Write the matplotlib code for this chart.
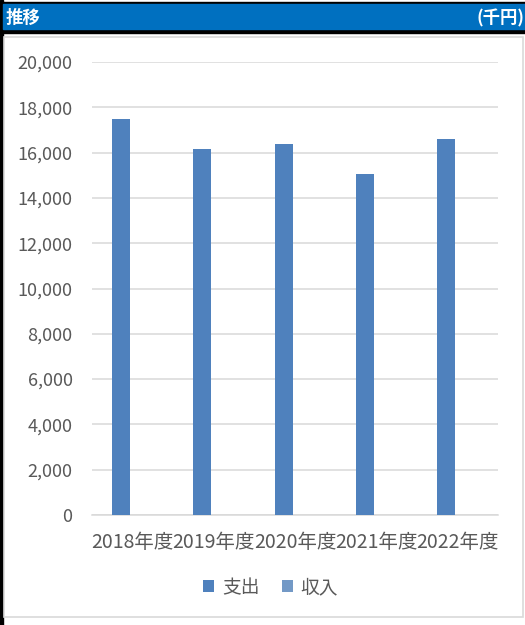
import matplotlib
matplotlib.use('Agg')
from matplotlib import pyplot as plt
from matplotlib.patches import Rectangle
import numpy as np

plt.rcParams['font.family'] = ['Noto Sans CJK JP', 'DejaVu Sans']

# データ
years = ['2018年度', '2019年度', '2020年度', '2021年度', '2022年度']
expense = [17500, 16150, 16370, 15040, 16590]   # 支出
income = [0, 0, 0, 0, 0]                         # 収入 (値なし)
yticks = [0, 2000, 4000, 6000, 8000, 10000, 12000, 14000, 16000, 18000, 20000]

W, H = 525, 625
fig = plt.figure(figsize=(W / 100, H / 100), dpi=100)

def px(x0, y0, w, h):
    # ピクセル座標(左上原点)から図の座標へ
    return (x0 / W, 1 - (y0 + h) / H), w / W, h / H

# 外枠
(xy, w, h) = px(0, 0, 3, 625)
fig.patches.append(Rectangle(xy, w, h, transform=fig.transFigure, color='black', zorder=0))
(xy, w, h) = px(0, 2, 525, 31)
fig.patches.append(Rectangle(xy, w, h, transform=fig.transFigure, color='black', zorder=0))
(xy, w, h) = px(3, 4, 522, 25)
fig.patches.append(Rectangle(xy, w, h, transform=fig.transFigure, color='#0070C0', zorder=1))
(xy, w, h) = px(4, 37, 519, 580)
fig.patches.append(Rectangle(xy, w, h, transform=fig.transFigure, facecolor='white',
                             edgecolor='#D9D9D9', linewidth=1.2, zorder=1))

fig.text(6 / W, 1 - 18 / H, '推移', color='white', fontsize=12.5, fontweight='bold',
         ha='left', va='center', zorder=3)
fig.text(524 / W, 1 - 18 / H, '(千円)', color='white', fontsize=12.5, fontweight='bold',
         ha='right', va='center', zorder=3)

# グラフ本体
ax = fig.add_axes([92 / W, 1 - 515 / H, 406 / W, 453 / H])
ax.set_zorder(2)
ax.patch.set_visible(False)

x = np.arange(len(years))
bw = 0.222
ax.bar(x - bw / 2 - 0.03, expense, bw, color='#4F81BD', label='支出', zorder=3)
ax.bar(x + bw / 2 - 0.03, income, bw, color='#7399C6', label='収入', zorder=3)

ax.set_xlim(-0.5, len(years) - 0.5)
ax.set_ylim(0, 20000)
ax.set_yticks(yticks)
ax.set_yticklabels([f'{v:,}' for v in yticks])
ax.set_xticks(x)
ax.set_xticklabels(years)
ax.yaxis.grid(True, color='#D9D9D9', linewidth=1.1)
ax.set_axisbelow(True)
for s in ['top', 'right', 'left']:
    ax.spines[s].set_visible(False)
ax.spines['bottom'].set_color('#D9D9D9')
ax.spines['bottom'].set_linewidth(1.1)
ax.tick_params(axis='both', length=0, labelcolor='#595959')
ax.tick_params(axis='y', pad=14, labelsize=13)
ax.tick_params(axis='x', pad=12, labelsize=14)

ax.legend(loc='center', bbox_to_anchor=(0.44, -0.16), ncol=2, frameon=False,
          fontsize=13.5, labelcolor='#595959', handlelength=0.6, handleheight=0.6,
          handletextpad=0.4, columnspacing=1.2)

fig.savefig('out.png', dpi=100)
